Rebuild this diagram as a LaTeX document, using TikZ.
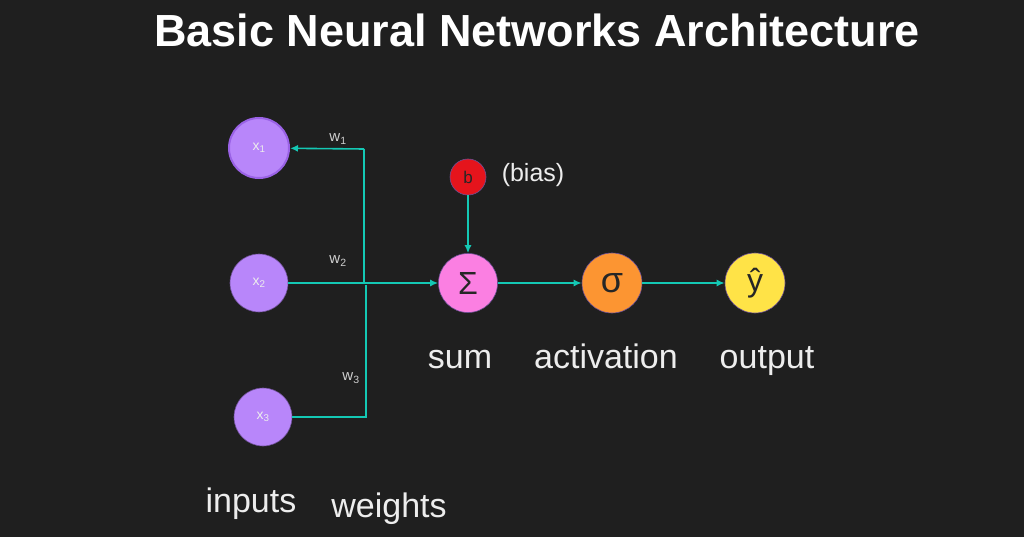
\documentclass[tikz,border=0pt]{standalone}
\usepackage{fontspec}
\setmainfont{Liberation Sans}
\usetikzlibrary{arrows.meta,positioning}
\definecolor{nnbg}{HTML}{1F1F1F}
\definecolor{nnteal}{HTML}{14C8B4}
\definecolor{nnpurple}{HTML}{B886FA}
\definecolor{nnpurpledark}{HTML}{9A62E6}
\definecolor{nnred}{HTML}{E5141C}
\definecolor{nnpink}{HTML}{FB7FE2}
\definecolor{nnorange}{HTML}{FC9532}
\definecolor{nnyellow}{HTML}{FFE347}
\definecolor{nnlabel}{HTML}{EDEDED}
\definecolor{nnweight}{HTML}{CFCFCF}
\tikzset{
  neuron/.style={circle, inner sep=0pt, draw=black!40!nnpurple, line width=0.6pt, align=center},
  inputnode/.style={neuron, fill=nnpurple, minimum size=58pt, text=nnlabel, font=\fontsize{14}{14}\selectfont},
  opnode/.style={neuron, minimum size=59pt, text=black!85, font=\fontsize{32}{32}\selectfont},
  caption/.style={text=nnlabel, anchor=base, font=\fontsize{34}{34}\selectfont},
  weight/.style={text=nnweight, font=\fontsize{15}{15}\selectfont},
  wire/.style={draw=nnteal, line width=1.6pt},
  arrow/.style={wire, -{Latex[length=8pt,width=7pt]}}
}

\begin{document}
\begin{tikzpicture}[x=1pt, y=-1pt]
  \fill[nnbg] (0,0) rectangle (1024,537);
  \useasboundingbox (0,0) rectangle (1024,537);

  \node[text=white, font=\bfseries\fontsize{45}{45}\selectfont] (title) at (537,30) {Basic Neural Networks Architecture};

  % inputs
  \node[inputnode, minimum size=60pt, draw=nnpurpledark, line width=2pt] (x1) at (259,148) {x\textsubscript{1}};
  \node[inputnode] (x2) at (259,283) {x\textsubscript{2}};
  \node[inputnode] (x3) at (263,417) {x\textsubscript{3}};

  % bias, sum, activation, output
  \node[neuron, fill=nnred, minimum size=36pt, text=black!85, font=\fontsize{17}{17}\selectfont] (b) at (468,177) {b};
  \node[opnode, fill=nnpink] (sum) at (468,283) {Σ};
  \node[opnode, fill=nnorange, minimum size=60pt, font=\fontsize{36}{36}\selectfont] (act) at (612,283) {σ};
  \node[opnode, fill=nnyellow, minimum size=60pt] (out) at (755,283) {ŷ};

  \coordinate (j1) at (364,149);
  \coordinate (jm) at (364,283);
  \coordinate (j3) at (366,417);
  \coordinate (jm3) at (366,285);

  \draw[wire] (x2) -- (jm);
  \draw[wire] (jm) -- (j1);
  \draw[arrow] (j1) -- (x1);
  \draw[wire] (x3) -- (j3) -- (jm3);
  \draw[arrow, line width=2.6pt] (jm) -- (sum);
  \draw[arrow] (b) -- (sum);
  \draw[arrow] (sum) -- (act);
  \draw[arrow] (act) -- (out);

  % labels
  \node[weight] (w1) at (338,139) {w\textsubscript{1}};
  \node[weight] (w2) at (338,261) {w\textsubscript{2}};
  \node[weight] (w3) at (351,378) {w\textsubscript{3}};
  \node[text=nnlabel, font=\fontsize{25}{25}\selectfont] (bias) at (533,175) {(bias)};
  \node[caption] (sumlbl) at (460,368) {sum};
  \node[caption] (actlbl) at (606,368) {activation};
  \node[caption] (outlbl) at (767,368) {output};
  \node[caption] (inlbl) at (251,512) {inputs};
  \node[caption] (wlbl) at (389,517) {weights};
\end{tikzpicture}
\end{document}
